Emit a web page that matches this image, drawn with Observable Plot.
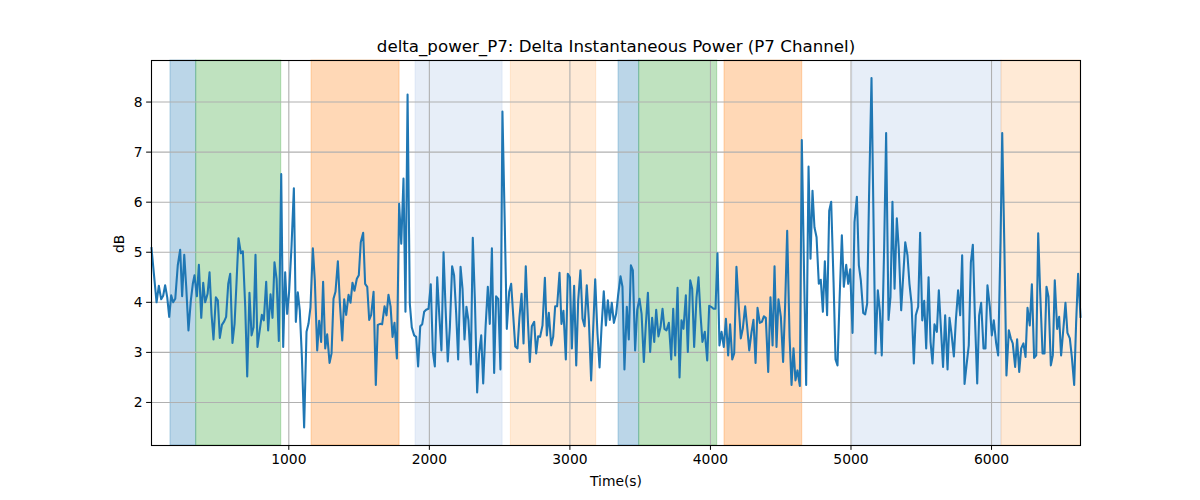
<!DOCTYPE html>
<html>
<head>
<meta charset="utf-8">
<script src="https://cdn.jsdelivr.net/npm/d3@7"></script>
<script src="https://cdn.jsdelivr.net/npm/@observablehq/plot@0.6"></script>
<style>
  html, body { margin: 0; padding: 0; background: #fff; }
  #chart { width: 1200px; height: 500px; }
</style>
</head>
<body>
<div id="chart"></div>
<script>
const title = "delta_power_P7: Delta Instantaneous Power (P7 Channel)";
const xLabel = "Time(s)";
const yLabel = "dB";
const xTicks = [1000, 2000, 3000, 4000, 5000, 6000];
const yTicks = [2, 3, 4, 5, 6, 7, 8];
const xDomain = [23, 6633];
const yDomain = [1.14, 8.83];

const bandStart = [158, 341, 1162, 1902, 2580, 3346, 3493, 4100, 5010, 6071];
const bandEnd   = [341, 946, 1788, 2521, 3187, 3493, 4048, 4653, 6071, 6633];
const bandColor = ["#1f77b4", "#2ca02c", "#ff7f0e", "#aec7e8", "#ffbb78",
                   "#1f77b4", "#2ca02c", "#ff7f0e", "#aec7e8", "#ffbb78"];

const time = [
  23,59,75,92,106,120,135,149,163,177,192,210,227,241,256,270,286,303,317,329,346,360,377,391,405,422,436,450,464,481,495,509,524,540,554,569,583,599,614,628,642,659,673,690,704,720,735,749,763,777,794,808,822,839,853,870,884,898,913,929,946,960,
  974,988,1002,1019,1036,1050,1064,1078,1093,1109,1126,1140,1154,1171,1185,1202,1216,1230,1244,1259,1273,1290,1304,1318,1332,1349,1363,1380,1394,1408,1425,1439,1453,1467,1484,1498,1512,1529,1543,1558,1572,1586,1603,1619,1633,1650,1664,1681,1695,1709,1724,1738,1752,1769,1785,1800,1816,1830,1845,1861,1875,
  1892,1906,1920,1935,1949,1963,1977,1994,2010,2025,2039,2056,2070,2086,2101,2115,2131,2146,2162,2176,2191,2205,2222,2236,2250,2264,2278,2295,2309,2324,2340,2354,2369,2383,2400,2416,2430,2445,2461,2475,2490,2506,2520,2537,2551,2568,2582,2596,2611,2627,2641,2656,2670,2686,2701,2715,2729,2746,2760,2774,2788,2805,2822,2836,
  2850,2867,2881,2895,2909,2926,2940,2954,2971,2985,3000,3014,3030,3045,3059,3075,3090,3104,3120,3135,3151,3166,3180,3196,3211,3225,3241,3256,3270,3284,3298,3313,3329,3343,3360,3374,3388,3405,3419,3434,3448,3464,3479,3495,3510,3526,3540,3555,3571,3585,3600,3614,3630,3645,3659,3673,3687,3704,3721,3735,3749,3766,
  3780,3794,3808,3825,3839,3856,3870,3884,3901,3915,3929,3943,3960,3977,3991,4005,4022,4036,4050,4064,4079,4095,4110,4126,4140,4155,4169,4185,4202,4216,4230,4247,4261,4276,4292,4306,4321,4335,4351,4366,4380,4394,4411,4427,4442,4456,4470,4484,4501,4517,4532,4546,4563,4577,4591,4605,4619,4636,4650,4667,4681,4698,
  4712,4726,4740,4755,4771,4785,4800,4814,4830,4845,4859,4876,4890,4904,4918,4935,4949,4966,4980,4994,5011,5025,5042,5056,5070,5087,5101,5115,5129,5146,5160,5174,5191,5205,5219,5236,5250,5267,5281,5295,5310,5326,5340,5357,5371,5386,5402,5416,5431,5447,5461,5478,5492,5507,5521,5535,5552,5566,5580,5594,5611,5625,
  5655,5670,5687,5701,5715,5732,5746,5762,5777,5791,5808,5822,5838,5853,5867,5881,5898,5912,5926,5943,5957,5971,5988,6002,6016,6033,6047,6064,6076,6092,6106,6123,6137,6151,6168,6182,6197,6211,6227,6242,6256,6272,6287,6303,6318,6332,6346,6363,6377,6391,6405,6422,6436,6450,6467,6481,6495,6512,6526,6540,6557,6571,6588,6602,6616,6633
];
const power = [
  5.08,4.0,4.33,4.06,4.13,4.34,4.1,3.71,4.14,4.0,4.07,4.74,5.05,4.12,4.95,4.31,3.44,4.04,4.37,4.54,4.12,4.75,3.69,4.39,4.0,4.17,4.6,3.77,3.26,4.1,4.04,3.29,3.55,3.62,3.71,4.37,4.57,3.19,3.57,4.4,5.28,4.98,5.02,3.9,2.52,4.19,3.34,3.5,4.95,3.11,3.46,3.75,3.64,4.41,3.44,4.16,3.69,4.8,4.47,3.23,6.56,3.11,
  4.6,3.77,4.2,5.1,6.28,3.61,4.2,3.84,2.91,1.5,3.41,3.57,3.9,5.08,4.44,3.04,3.63,3.21,4.41,3.08,3.36,2.79,2.98,4.07,4.21,4.82,4.0,3.24,4.06,3.75,4.15,3.99,4.39,4.23,4.47,4.54,5.2,5.39,4.37,4.31,3.65,3.75,4.21,2.35,3.55,3.57,3.56,3.92,3.74,4.15,3.92,3.31,3.59,2.88,5.97,5.17,6.47,3.81,8.15,3.97,3.5,
  3.34,3.31,2.72,3.52,3.56,3.81,3.85,3.87,4.36,3.01,2.72,4.5,3.77,3.04,5.0,3.91,2.82,3.51,4.72,4.54,3.77,2.86,4.71,4.27,3.26,3.91,3.64,2.76,5.29,4.04,2.2,2.98,3.34,2.38,3.51,4.31,3.57,5.08,2.59,4.12,4.07,2.66,7.81,5.5,3.47,4.21,4.37,3.77,3.12,3.08,3.7,4.17,3.18,4.72,3.64,2.81,3.52,3.61,2.98,3.32,3.31,3.54,4.49,3.34,
  3.79,3.14,3.31,3.92,3.92,4.59,3.57,3.83,2.86,4.57,4.5,3.08,4.33,2.74,4.04,4.64,3.67,3.52,4.34,3.64,2.44,3.5,4.46,3.38,2.7,3.5,4.22,3.54,4.04,3.65,3.99,3.59,3.77,4.14,4.52,4.31,2.66,3.91,3.26,4.74,4.64,3.04,3.85,4.07,3.77,2.81,3.54,4.19,3.01,3.69,3.21,3.85,3.32,3.51,3.87,3.47,3.44,3.59,2.86,3.87,2.94,4.29,
  2.5,3.64,3.47,4.14,3.01,4.44,4.27,3.11,4.1,4.5,3.77,3.21,3.41,2.84,3.93,3.91,3.87,3.87,4.98,3.14,3.41,3.11,3.67,2.94,3.56,2.86,2.98,4.71,3.9,3.28,3.47,3.92,3.52,3.04,3.4,3.65,2.79,3.89,3.59,3.61,3.72,3.69,2.61,4.1,3.14,4.72,3.11,4.06,3.71,2.81,4.0,5.43,3.31,2.35,3.08,2.44,2.64,2.33,7.24,4.44,2.35,6.71,
  4.87,6.23,5.5,5.3,4.37,4.45,3.81,4.82,3.74,5.83,6.01,4.4,2.86,2.74,4.0,5.34,4.31,4.75,4.37,4.66,3.39,5.6,6.11,4.74,4.44,3.79,3.76,3.97,6.2,8.48,5.7,2.98,4.24,3.84,2.94,5.1,7.38,3.65,4.11,6.01,4.27,5.68,5.07,3.84,4.5,5.2,4.94,4.37,3.97,2.78,3.74,3.91,5.39,3.64,4.03,3.08,4.5,3.21,2.78,3.56,3.41,4.24,
  2.71,3.74,2.66,3.69,3.38,2.92,3.64,4.24,3.74,4.94,2.37,2.74,3.14,4.8,5.15,3.77,2.38,3.74,3.99,3.08,3.08,4.34,3.91,3.34,3.64,3.18,2.94,5.2,7.38,5.0,2.54,3.44,3.28,3.18,2.71,3.26,2.61,3.08,3.18,2.91,3.89,3.54,4.36,2.89,2.94,5.38,4.2,2.98,2.98,4.31,4.11,2.74,2.94,4.44,3.47,3.71,2.94,3.5,3.99,3.39,3.28,2.92,2.35,3.6,4.57,3.71
];

const series = time.map((t, i) => ({t, v: power[i]}));
const bands = bandStart.map((s, i) => ({s, e: bandEnd[i], c: bandColor[i]}));

const chart = Plot.plot({
  width: 1200,
  height: 500,
  marginLeft: 151,
  marginRight: 120,
  marginTop: 60,
  marginBottom: 55,
  style: {fontFamily: "DejaVu Sans", fontSize: "13.89px", color: "#000", background: "#fff"},
  x: {domain: xDomain},
  y: {domain: yDomain},
  marks: [
    Plot.rect(bands, {x1: "s", x2: "e", y1: yDomain[0], y2: yDomain[1], fill: "c", fillOpacity: 0.3, stroke: "c", strokeOpacity: 0.3, strokeWidth: 1}),
    Plot.gridX({ticks: xTicks, stroke: "#b0b0b0", strokeOpacity: 1, strokeWidth: 1.1}),
    Plot.gridY({ticks: yTicks, stroke: "#b0b0b0", strokeOpacity: 1, strokeWidth: 1.1}),
    Plot.line(series, {x: "t", y: "v", stroke: "#1f77b4", strokeWidth: 2.08, strokeLinejoin: "round", strokeLinecap: "square"}),
    Plot.frame({stroke: "#000", strokeWidth: 1.1}),
    Plot.axisX({ticks: xTicks, tickFormat: "d", tickSize: 4.86, tickPadding: 4, fontSize: 13.89, label: null, stroke: "#000"}),
    Plot.axisY({ticks: yTicks, tickFormat: "d", tickSize: 4.86, tickPadding: 4, fontSize: 13.89, label: null, stroke: "#000"}),
    Plot.text([title], {frameAnchor: "top", dy: -8.3, lineAnchor: "bottom", fontSize: 16.67, fill: "#000"}),
    Plot.text([xLabel], {frameAnchor: "bottom", dy: 36, lineAnchor: "middle", fontSize: 13.89, fill: "#000"}),
    Plot.text([yLabel], {frameAnchor: "left", dx: -32, rotate: -90, lineAnchor: "middle", fontSize: 13.89, fill: "#000"})
  ]
});
document.getElementById("chart").appendChild(chart);
</script>
</body>
</html>
